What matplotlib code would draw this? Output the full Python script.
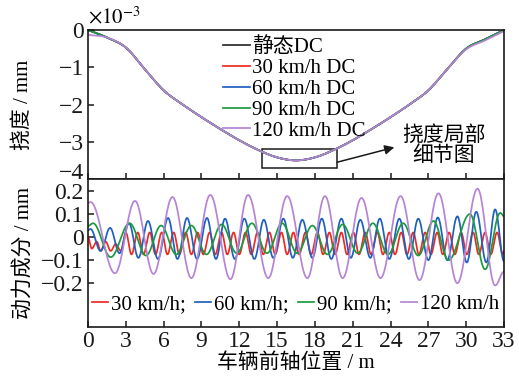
import numpy as np
import matplotlib
matplotlib.use("Agg")
import matplotlib.pyplot as plt
from matplotlib.patches import Rectangle
from matplotlib.transforms import ScaledTranslation

plt.rcParams['font.family'] = ['Liberation Serif', 'Noto Sans CJK SC']
plt.rcParams['mathtext.fontset'] = 'stix'
plt.rcParams['axes.unicode_minus'] = True

# ---------------- data ----------------
# deflection curves (x10^-3 mm) sampled every 1.5 m along the front-axle position
pos_dc = [0, 1.5, 3, 4.5, 6, 7.5, 9, 10.5, 12, 13.5, 15, 16.5,
          18, 19.5, 21, 22.5, 24, 25.5, 27, 28.5, 30, 31.5, 33]
dc_static = [0, -0.2, -0.47, -1.05, -1.62, -2.0, -2.34, -2.66, -2.96, -3.22, -3.42, -3.5,
             -3.42, -3.22, -2.96, -2.66, -2.34, -2.0, -1.62, -1.05, -0.5, -0.25, 0]
dc_30 = [0, -0.2, -0.47, -1.05, -1.62, -2.0, -2.34, -2.66, -2.96, -3.22, -3.42, -3.5,
         -3.42, -3.22, -2.96, -2.66, -2.34, -2.0, -1.62, -1.05, -0.5, -0.25, 0]
dc_60 = [0, -0.2, -0.47, -1.05, -1.62, -2.0, -2.34, -2.66, -2.96, -3.22, -3.42, -3.5,
         -3.42, -3.22, -2.96, -2.66, -2.34, -2.0, -1.62, -1.05, -0.5, -0.25, 0]
dc_90 = [0, -0.2, -0.47, -1.05, -1.62, -2.0, -2.34, -2.66, -2.96, -3.22, -3.42, -3.5,
         -3.42, -3.22, -2.96, -2.66, -2.34, -2.0, -1.62, -1.05, -0.5, -0.25, 0]
dc_120 = [-0.13, -0.2, -0.47, -1.05, -1.62, -2.0, -2.34, -2.66, -2.96, -3.22, -3.42, -3.5,
          -3.42, -3.22, -2.96, -2.66, -2.34, -2.0, -1.62, -1.05, -0.52, -0.28, -0.03]

# dynamic components (mm): positions (m) and values of successive peaks / troughs
ext_x_30 = [0, 0.3, 0.7, 1.0, 1.4, 1.8, 2.2, 2.6,
            3.0, 3.45, 3.95, 4.4, 4.9, 5.35, 5.85, 6.3, 6.8, 7.25, 7.75, 8.2, 8.7, 9.15,
            9.65, 10.1, 10.6, 11.05, 11.55, 12.0, 12.5, 12.95, 13.45, 13.9, 14.4, 14.85,
            15.35, 15.8, 16.3, 16.75, 17.25, 17.7, 18.2, 18.65, 19.15, 19.6, 20.1, 20.55,
            21.05, 21.5, 22.0, 22.45, 22.95, 23.4, 23.9, 24.35, 24.85, 25.3, 25.8, 26.25,
            26.75, 27.2, 27.7, 28.15, 28.65, 29.1, 29.6, 30.05, 30.55, 31.0, 31.5, 31.95,
            32.45, 32.9, 33.0]
ext_y_30 = [0.0, -0.05, -0.02, -0.06, -0.02, -0.06, -0.03, -0.06,
            0.02, -0.075, 0.02, -0.075, 0.02, -0.075, 0.02, -0.075, 0.02, -0.075, 0.02, -0.075,
            0.02, -0.075, 0.02, -0.075, 0.02, -0.075, 0.02, -0.075, 0.02, -0.075, 0.02, -0.075,
            0.02, -0.075, 0.02, -0.075, 0.02, -0.075, 0.02, -0.075, 0.02, -0.075, 0.02, -0.075,
            0.02, -0.075, 0.02, -0.075, 0.02, -0.075, 0.02, -0.075, 0.02, -0.075, 0.02, -0.075,
            0.02, -0.075, 0.02, -0.075, 0.02, -0.075, 0.02, -0.075, 0.02, -0.075, 0.02, -0.075,
            0.02, -0.075, 0.02, -0.075, -0.06]

ext_x_60 = [0, 0.2, 1.0, 1.75, 2.5, 3.25, 4.0, 4.76, 5.55, 6.35, 7.1, 7.86, 8.65, 9.44,
            10.15, 10.87, 11.65, 12.4, 13.2, 13.95, 14.7, 15.5, 16.25, 17.0, 17.8, 18.55,
            19.3, 20.1, 20.85, 21.6, 22.4, 23.15, 23.9, 24.7, 25.45, 26.2, 27.0, 27.75,
            28.5, 29.3, 30.05, 30.8, 31.6, 32.3, 33.0]
ext_y_60 = [0.03, 0.035, -0.06, 0.04, -0.07, 0.06, -0.09, 0.07, -0.095, 0.083, -0.095, 0.083,
            -0.095, 0.083, -0.095, 0.08, -0.095, 0.08, -0.095, 0.075, -0.09, 0.08, -0.09,
            0.075, -0.09, 0.08, -0.095, 0.08, -0.09, 0.075, -0.09, 0.08, -0.095, 0.08, -0.095,
            0.08, -0.1, 0.085, -0.1, 0.09, -0.11, 0.11, -0.11, 0.12, -0.105]

ext_x_90 = [0, 0.4, 1.8, 3.3, 4.6, 5.8, 7.0, 8.2, 9.4, 10.6, 11.8, 13.0, 14.2, 15.4, 16.6,
            17.8, 19.0, 20.2, 21.4, 22.6, 23.8, 25.0, 26.2, 27.4, 28.6, 30.3, 31.5, 32.7, 33.0]
ext_y_90 = [0.048, 0.06, -0.087, 0.06, -0.08, 0.05, -0.075, 0.05, -0.075, 0.055, -0.07, 0.06,
            -0.07, 0.06, -0.07, 0.05, -0.075, 0.055, -0.07, 0.06, -0.075, 0.06, -0.08, 0.07,
            -0.1, 0.1, -0.14, 0.105, 0.09]

ext_x_120 = [0, 0.2, 2.14, 3.73, 5.2, 6.7, 8.2, 9.7, 11.3, 12.7, 14.3, 15.8, 17.4, 18.8, 20.2,
             21.7, 23.2, 24.8, 26.3, 27.8, 29.3, 30.9, 32.3, 33.0]
ext_y_120 = [0.148, 0.152, -0.157, 0.157, -0.16, 0.174, -0.178, 0.183, -0.183, 0.183, -0.178,
             0.178, -0.178, 0.178, -0.178, 0.17, -0.178, 0.178, -0.187, 0.19, -0.2, 0.21,
             -0.21, -0.15]

speed_labels = ['30 km/h', '60 km/h', '90 km/h', '120 km/h']
x_ticks = [0, 3, 6, 9, 12, 15, 18, 21, 24, 27, 30, 33]

C_BLACK = '#2b2b2b'
C_RED = '#ee2a24'
C_BLUE = '#1f5fbf'
C_GREEN = '#1b9a3e'
C_PURPLE = '#b584d6'


def smooth_curve(xs, ys, n=20):
    """Catmull-Rom spline through the sample points."""
    xs = np.asarray(xs, float)
    ys = np.asarray(ys, float)
    px = np.concatenate([[2 * xs[0] - xs[1]], xs, [2 * xs[-1] - xs[-2]]])
    py = np.concatenate([[2 * ys[0] - ys[1]], ys, [2 * ys[-1] - ys[-2]]])
    ox, oy = [], []
    t = np.linspace(0, 1, n, endpoint=False)
    for i in range(1, len(px) - 2):
        for arr, out in ((px, ox), (py, oy)):
            p0, p1, p2, p3 = arr[i - 1], arr[i], arr[i + 1], arr[i + 2]
            out.append(0.5 * ((2 * p1) + (-p0 + p2) * t
                              + (2 * p0 - 5 * p1 + 4 * p2 - p3) * t ** 2
                              + (-p0 + 3 * p1 - 3 * p2 + p3) * t ** 3))
    ox.append([xs[-1]])
    oy.append([ys[-1]])
    return np.concatenate(ox), np.concatenate(oy)


def wave(xs, ys, n=24):
    """Half-cosine segments joining successive extrema."""
    ox, oy = [], []
    t = np.linspace(0, 1, n, endpoint=False)
    for i in range(len(xs) - 1):
        ox.append(xs[i] + (xs[i + 1] - xs[i]) * t)
        oy.append(ys[i] + (ys[i + 1] - ys[i]) * (1 - np.cos(np.pi * t)) / 2)
    ox.append([xs[-1]])
    oy.append([ys[-1]])
    return np.concatenate(ox), np.concatenate(oy)


# ---------------- figure ----------------
W, H = 519, 382
fig = plt.figure(figsize=(W / 100, H / 100), dpi=100)
L, R = 88 / W, 504 / W
ax1 = fig.add_axes([L, 1 - 179 / H, R - L, (179 - 30) / H])
ax2 = fig.add_axes([L, 1 - 327 / H, R - L, (327 - 179) / H], sharex=ax1)

FS = 15
TFS = 17
lw = 1.25
for ax in (ax1, ax2):
    for s in ax.spines.values():
        s.set_linewidth(1.2)
        s.set_color('#1a1a1a')
    ax.tick_params(direction='in', length=4.5, width=1.1, labelsize=TFS,
                   top=False, right=False, colors='#1a1a1a', pad=3)

# top panel: deflection curves
for ys, c, lab in [(dc_static, C_BLACK, '静态DC'),
                   (dc_30, C_RED, '30 km/h DC'),
                   (dc_60, C_BLUE, '60 km/h DC'),
                   (dc_90, C_GREEN, '90 km/h DC'),
                   (dc_120, C_PURPLE, '120 km/h DC')]:
    sx, sy = smooth_curve(pos_dc, ys)
    ax1.plot(sx, sy, color=c, lw=lw, label=lab)

ax1.set_ylim(-4, 0)
ax1.set_yticks([0, -1, -2, -3, -4])
ax1.set_xlim(0, 33)
ax1.set_xticks(x_ticks)
ax1.tick_params(labelbottom=False)
ax1.set_ylabel('挠度 / mm', fontsize=FS)
ax1.yaxis.set_label_coords((33 - 88) / 416, 0.5)
ax1.text(0, 1.015, r'$\times10^{-3}$', transform=ax1.transAxes, fontsize=FS,
         ha='left', va='bottom')

leg1 = ax1.legend(loc='upper left', bbox_to_anchor=((223 - 88) / 416, 0.95),
                  frameon=False, fontsize=FS, handlelength=1.3, handletextpad=0.1,
                  labelspacing=0.06, borderpad=0, borderaxespad=0)

# zoom box and arrow
ax1.add_patch(Rectangle((13.8, -3.70), 5.96, 0.51, fill=False, ec='#1a1a1a', lw=1.1))
ax1.annotate('', xy=(24.3, -3.15), xytext=(19.76, -3.55),
             arrowprops=dict(arrowstyle='-|>', color='#1a1a1a', lw=1.1,
                             mutation_scale=14, shrinkA=0, shrinkB=0))
ax1.text(28.2, -3.12, '挠度局部\n细节图', fontsize=FS, ha='center', va='center',
         linespacing=1.05)

# bottom panel: dynamic components
for xs, ys, c, lab in [(ext_x_30, ext_y_30, C_RED, speed_labels[0] + ';'),
                       (ext_x_60, ext_y_60, C_BLUE, speed_labels[1] + ';'),
                       (ext_x_90, ext_y_90, C_GREEN, speed_labels[2] + ';'),
                       (ext_x_120, ext_y_120, C_PURPLE, speed_labels[3])]:
    wx, wy = wave(xs, ys)
    ax2.plot(wx, wy, color=c, lw=lw, label=lab)

ax2.set_ylim(-0.39, 0.252)
ax2.set_yticks([0.2, 0.1, 0, -0.1, -0.2])
ax2.set_yticklabels(['0.2', '0.1', '0', '\u22120.1', '\u22120.2'])
ax2.set_xticks(x_ticks)
ax2.set_xlim(0, 33)
ax2.set_ylabel('动力成分 / mm', fontsize=FS)
ax2.yaxis.set_label_coords((34 - 88) / 416, 0.5)
ax2.set_xlabel('车辆前轴位置 / m', fontsize=FS, labelpad=1)
ax2.legend(loc='upper left', bbox_to_anchor=(0.01, 0.22), ncol=4, frameon=False,
           fontsize=FS, handlelength=0.75, handletextpad=0.15, columnspacing=0.45,
           borderpad=0, borderaxespad=0)

# lift the lowest label of the upper panel clear of the panel below
fig.canvas.draw()
lab_m4 = ax1.get_yticklabels()[-1]
lab_m4.set_transform(lab_m4.get_transform() + ScaledTranslation(0, 6 / 72, fig.dpi_scale_trans))

fig.savefig('out.png', dpi=100)
